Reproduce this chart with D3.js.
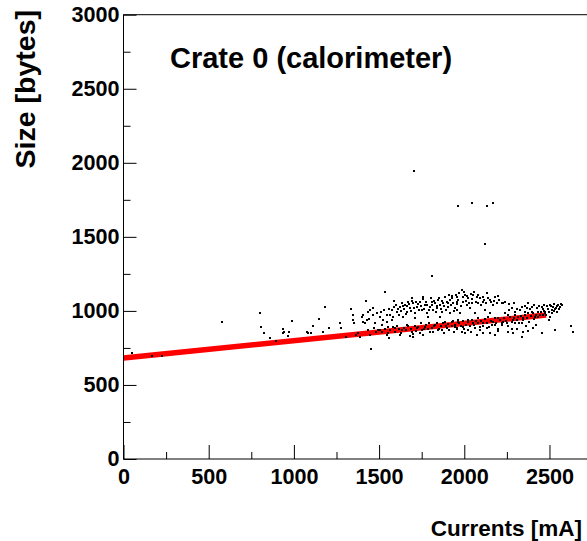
<!DOCTYPE html>
<html>
<head>
<meta charset="utf-8">
<script src="https://cdn.jsdelivr.net/npm/d3@7"></script>
<style>
  body { margin: 0; background: #fff; }
  text { font-family: "Liberation Sans", Arial, Helvetica, sans-serif; font-weight: bold; }
</style>
</head>
<body>
<div id="chart"></div>
<script>
// currents [mA] vs event size [bytes]
const sparse_points = [
   [52, 714], [165, 698], [224, 698], [578, 926], [801, 988], [809, 894], [826, 849],
   [860, 820], [897, 797], [938, 876], [942, 860], [936, 853], [964, 831], [971, 856],
   [987, 934], [1075, 860], [1085, 853], [1102, 849], [1114, 901], [1147, 944], [1173, 856],
   [1181, 1025], [1206, 883], [1271, 917], [1275, 883], [1304, 826], [1333, 1012], [1345, 973],
   [1349, 939], [1355, 921], [1364, 838], [1378, 849], [1388, 826], [1398, 957], [1404, 928],
   [1407, 973], [1417, 921], [1423, 1068], [1427, 939], [1437, 995], [1441, 944], [1447, 1007],
   [1437, 872], [1447, 838], [1451, 743], [1466, 973], [1470, 883]
];

const upper_cloud = [
   [1535, 1130], [1589, 1070], [1691, 1086], [1759, 1097], [1926, 1101], [1959, 1093],
   [1466, 1018], [1486, 985], [1505, 962], [1525, 939], [1545, 928], [1564, 973], [1574, 1007],
   [1603, 995], [1623, 1029], [1633, 1052], [1652, 1041], [1662, 995], [1671, 1063], [1681, 1018],
   [1701, 1052], [1721, 1029], [1740, 1063], [1750, 1007], [1769, 1041], [1779, 985], [1799, 1029],
   [1809, 1063], [1818, 1007], [1828, 1052], [1838, 1018], [1847, 1074], [1857, 1041], [1867, 995],
   [1877, 1052], [1897, 1063], [1906, 1029], [1916, 1074], [1935, 1052], [1945, 1018], [1955, 1063],
   [1985, 1142], [2004, 1108], [2024, 1086], [2053, 1108], [2073, 1097], [2043, 1052], [2014, 1041],
   [1994, 1063], [2033, 1018], [1965, 1074], [1955, 1007], [2082, 1052], [2112, 1063], [2135, 1120],
   [2151, 1074], [2180, 1097], [2200, 1101], [2170, 1041], [2190, 1052], [2220, 1052], [2122, 1007],
   [2063, 985], [1975, 985], [2151, 985], [2239, 985], [2298, 995], [2327, 1007], [2372, 1052],
   [2366, 1018], [2396, 1029], [2425, 1018], [2454, 1025], [2484, 1034], [2503, 1041], [2522, 1029],
   [2542, 1034], [2562, 1029], [2572, 1041], [2513, 1007], [2532, 1012], [2474, 995], [2434, 995],
   [2405, 985], [2356, 995], [2225, 1052],
   [1512, 990], [1530, 1005], [1548, 975], [1558, 1015], [1580, 960], [1585, 1025], [1598, 1040],
   [1610, 1010], [1615, 975], [1628, 1000], [1640, 1035], [1645, 1015], [1657, 980], [1666, 1030],
   [1675, 1045], [1686, 1000], [1694, 1070], [1705, 1020], [1712, 985], [1716, 1060], [1728, 1045],
   [1733, 1005], [1745, 1030], [1755, 1080], [1762, 1015], [1773, 1060], [1784, 1040], [1790, 1005],
   [1803, 1085], [1812, 1040], [1822, 1070], [1833, 990], [1842, 1035], [1852, 1090], [1861, 1015],
   [1870, 1065], [1882, 1030], [1888, 1095], [1894, 1005], [1903, 1050], [1911, 1110], [1921, 1040],
   [1930, 1085], [1940, 1000], [1950, 1110], [1960, 1045], [1970, 1120], [1980, 1030], [1990, 1095],
   [1998, 1125], [2008, 1070], [2018, 1100], [2028, 1050], [2038, 1115], [2048, 1080], [2058, 1130],
   [2068, 1060], [2078, 1110], [2090, 1085], [2100, 1040], [2108, 1095], [2118, 1075], [2128, 1050],
   [2140, 1090], [2158, 1060], [2175, 1070], [2205, 1075], [2240, 1060], [2260, 1045], [2290, 1055],
   [2265, 1005], [2280, 1020], [2310, 1015], [2340, 1025], [2355, 1035], [2385, 1010], [2410, 1040],
   [2440, 1035], [2460, 1010], [2470, 1040], [2490, 1015], [2510, 1030], [2525, 1045], [2540, 1020],
   [2550, 1040], [2555, 1010], [2565, 1045]
];

const lower_band = [
   [1476, 917], [1515, 905], [1554, 894], [1593, 883], [1633, 872], [1662, 905], [1691, 860],
   [1721, 883], [1740, 849], [1769, 894], [1799, 860], [1828, 905], [1847, 872], [1877, 917],
   [1897, 883], [1926, 928], [1945, 894], [1965, 939], [1545, 838], [1623, 838], [1701, 826],
   [1505, 872], [1574, 939], [1642, 962], [1711, 951], [1789, 962], [1857, 962], [1916, 985],
   [1965, 928], [1994, 894], [2024, 939], [2053, 917], [2082, 951], [2112, 917], [2141, 962],
   [2170, 928], [2200, 951], [2229, 928], [2258, 973], [2288, 939], [2317, 962], [2346, 951],
   [2376, 985], [2415, 962], [2444, 973], [2474, 985], [1955, 883], [1985, 860], [2024, 872],
   [2063, 883], [2092, 894], [2131, 883], [2180, 905], [2220, 905], [2249, 917], [2298, 917],
   [2337, 917], [2004, 849], [2073, 838], [2180, 838], [2258, 860], [2288, 853], [2308, 876],
   [2346, 860], [2376, 865], [2405, 883], [2454, 849], [2532, 872], [2626, 899], [2640, 860],
   [2337, 826], [2151, 849],
   [1480, 855], [1495, 870], [1520, 860], [1535, 880], [1550, 850], [1565, 870], [1580, 890],
   [1595, 860], [1605, 900], [1618, 875], [1630, 850], [1648, 885], [1660, 870], [1672, 895],
   [1685, 880], [1697, 845], [1708, 900], [1718, 865], [1730, 890], [1745, 915], [1752, 870],
   [1765, 880], [1778, 905], [1787, 875], [1795, 920], [1808, 885], [1816, 860], [1825, 895],
   [1838, 915], [1850, 880], [1862, 900], [1870, 870], [1885, 925], [1893, 895], [1905, 910],
   [1913, 870], [1925, 900], [1935, 935], [1948, 905], [1958, 875], [1970, 915], [1980, 895],
   [1992, 930], [2000, 880], [2012, 905], [2020, 925], [2035, 895], [2046, 940], [2058, 905],
   [2068, 930], [2080, 915], [2090, 870], [2100, 935], [2110, 900], [2122, 945], [2135, 915],
   [2145, 890], [2158, 935], [2165, 905], [2178, 950], [2188, 920], [2196, 880], [2210, 940],
   [2222, 915], [2235, 955], [2245, 935], [2255, 900], [2268, 960], [2278, 925], [2290, 950],
   [2300, 975], [2312, 940], [2322, 915], [2333, 965], [2345, 940], [2358, 975], [2368, 950],
   [2380, 925], [2390, 965], [2400, 990], [2412, 945], [2422, 975], [2432, 960], [2448, 990],
   [2460, 970], [2470, 1000], [2482, 975], [2495, 990], [2505, 960], [2515, 985], [2528, 1000],
   [2545, 990],
   [1560, 820], [1680, 830], [1760, 835], [1880, 850], [1940, 855], [2040, 860], [2110, 850],
   [2200, 865], [2280, 880], [2360, 895], [2420, 905], [2500, 940]
];

const outliers = [
   [1705, 1948], [1961, 1705], [2045, 1728], [2135, 1709], [2167, 1728], [2123, 1453], [1809, 1239]
];

// straight line fit, drawn between its two ends
const fit_currents = [0, 2480];
const fit_sizes = [682, 972];

const x_ticks = [0, 500, 1000, 1500, 2000, 2500];
const x_minor = [250, 750, 1250, 1750, 2250];
const y_ticks = [0, 500, 1000, 1500, 2000, 2500, 3000];
const y_minor = [250, 750, 1250, 1750, 2250, 2750];

const chart_title = 'Crate 0 (calorimeter)';
const x_title = 'Currents [mA]';
const y_title = 'Size [bytes]';

const frame = {left: 123.5, top: 14.7, right: 600.6, bottom: 459};
const W = 587, H = 541;

const svg = d3.select('#chart')
   .append('svg')
   .attr('width', W)
   .attr('height', H);

const x_scale = d3.scaleLinear()
   .domain([0, 2800])
   .range([frame.left, frame.right]);

const y_scale = d3.scaleLinear()
   .domain([0, 3000])
   .range([frame.bottom, frame.top]);

// fit line first, points over it
const fit_line = d3.line()
   .x(d => x_scale(d[0]))
   .y(d => y_scale(d[1]));

svg.append('path')
   .datum(d3.zip(fit_currents, fit_sizes))
   .attr('d', fit_line)
   .attr('fill', 'none')
   .attr('stroke', '#ff0000')
   .attr('stroke-width', 5.5);

const all_points = sparse_points.concat(upper_cloud, lower_band, outliers);

svg.append('g')
   .selectAll('rect')
   .data(all_points)
   .join('rect')
   .attr('x', d => Math.round(x_scale(d[0])) - 1)
   .attr('y', d => Math.round(y_scale(d[1])) - 1)
   .attr('width', 2)
   .attr('height', 2)
   .attr('fill', '#000');

// frame
svg.append('rect')
   .attr('x', frame.left)
   .attr('y', frame.top)
   .attr('width', frame.right - frame.left)
   .attr('height', frame.bottom - frame.top)
   .attr('fill', 'none')
   .attr('stroke', '#000')
   .attr('stroke-width', 1);

// axes, ticks pointing into the frame
const x_axis = d3.axisBottom(x_scale)
   .tickValues(x_ticks)
   .tickFormat(d3.format('d'))
   .tickSizeInner(-14)
   .tickSizeOuter(0)
   .tickPadding(10);

svg.append('g')
   .attr('transform', `translate(0, ${frame.bottom})`)
   .call(x_axis);

svg.append('g')
   .attr('transform', `translate(0, ${frame.bottom})`)
   .call(d3.axisBottom(x_scale).tickValues(x_minor).tickFormat('').tickSizeInner(-7).tickSizeOuter(0));

const y_axis = d3.axisLeft(y_scale)
   .tickValues(y_ticks)
   .tickFormat(d3.format('d'))
   .tickSizeInner(-13)
   .tickSizeOuter(0)
   .tickPadding(4);

svg.append('g')
   .attr('transform', `translate(${frame.left}, 0)`)
   .call(y_axis);

svg.append('g')
   .attr('transform', `translate(${frame.left}, 0)`)
   .call(d3.axisLeft(y_scale).tickValues(y_minor).tickFormat('').tickSizeInner(-7).tickSizeOuter(0));

svg.selectAll('.domain').remove();
svg.selectAll('.tick line').attr('stroke', '#000');
svg.selectAll('.tick text')
   .attr('fill', '#000')
   .style('font-size', '21.6px')
   .style('font-family', '"Liberation Sans", Arial, sans-serif')
   .style('font-weight', 'bold');

svg.append('text')
   .attr('x', 170)
   .attr('y', 68)
   .style('font-size', '29px')
   .text(chart_title);

svg.append('text')
   .attr('x', 582)
   .attr('y', 536)
   .attr('text-anchor', 'end')
   .style('font-size', '22.5px')
   .text(x_title);

svg.append('text')
   .attr('transform', 'translate(35, 10) rotate(-90)')
   .attr('text-anchor', 'end')
   .style('font-size', '28.5px')
   .text(y_title);
</script>
</body>
</html>
